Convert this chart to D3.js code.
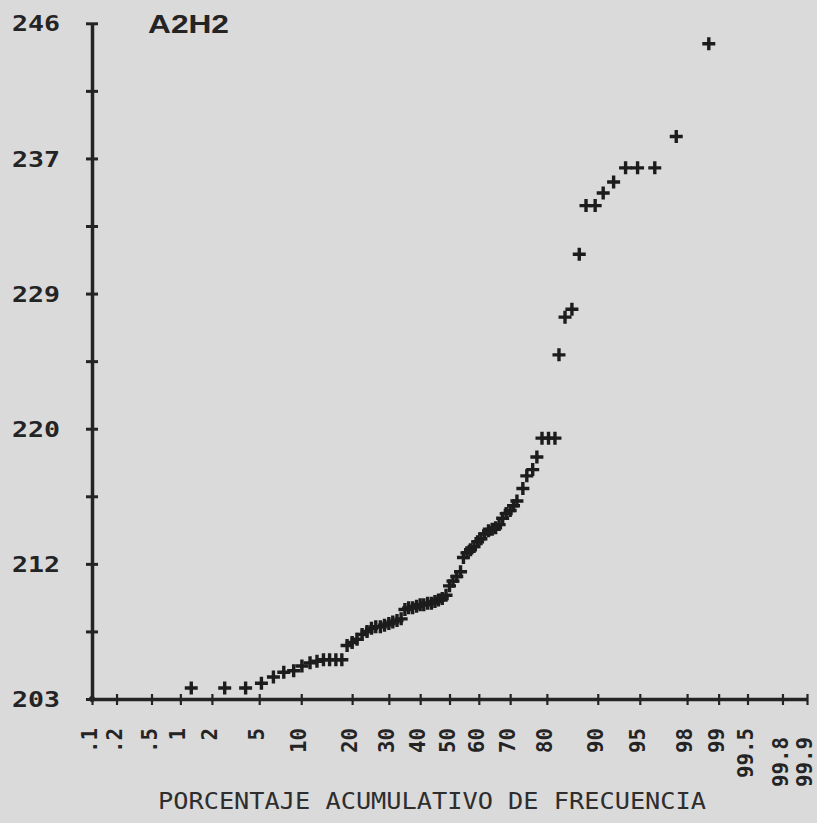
<!DOCTYPE html>
<html>
<head>
<meta charset="utf-8">
<script src="https://cdn.jsdelivr.net/npm/d3@7"></script>
<style>
  html, body { margin: 0; padding: 0; background: #dadada; }
  svg { display: block; }
</style>
</head>
<body>
<svg id="chart" width="817" height="823"></svg>
<script>
// Cumulative frequency (%) of each sorted observation and its value
const percents = [1.28, 2.6, 3.9, 5.2, 6.4, 7.6, 8.9, 10.1, 11.4, 12.6,
  13.8, 15.0, 16.3, 17.6, 18.8, 20.0, 21.2, 22.5, 23.8, 25.0,
  26.2, 27.5, 28.7, 30.0, 31.2, 32.5, 33.8, 35.0, 36.2, 37.5,
  38.8, 40.0, 41.2, 42.5, 43.8, 45.0, 46.2, 47.5, 48.8, 50.0,
  51.2, 52.5, 53.8, 54.8, 56.0, 57.2, 58.4, 59.6, 60.7, 61.9,
  63.2, 64.4, 65.5, 66.6, 67.7, 68.8, 70.0, 71.0, 72.0, 73.7,
  74.8, 76.4, 77.5, 78.8, 80.4, 81.9, 82.8, 84.1, 85.5, 86.9,
  88.1, 89.6, 90.8, 92.2, 93.6, 94.8, 96.2, 97.5, 98.75];
const values = [203.7, 203.7, 203.7, 204.0, 204.4, 204.7, 204.8, 205.1, 205.3, 205.4,
  205.5, 205.5, 205.5, 205.5, 206.4, 206.6, 206.8, 207.1, 207.3, 207.5,
  207.6, 207.6, 207.7, 207.8, 207.9, 208.0, 208.1, 208.7, 208.8, 208.8,
  208.9, 209.0, 209.0, 209.1, 209.1, 209.2, 209.3, 209.4, 209.6, 210.2,
  210.5, 210.8, 211.1, 212.0, 212.3, 212.5, 212.7, 213.0, 213.2, 213.5,
  213.7, 213.8, 213.9, 214.1, 214.5, 214.8, 215.0, 215.3, 215.6, 216.4,
  217.2, 217.6, 218.4, 219.6, 219.6, 219.6, 224.9, 227.3, 227.8, 231.3,
  234.4, 234.4, 235.2, 235.9, 236.8, 236.8, 236.8, 238.8, 244.7];

const xTickValues = [0.1, 0.2, 0.5, 1, 2, 5, 10, 20, 30, 40, 50, 60, 70, 80, 90, 95, 98, 99, 99.5, 99.8, 99.9];
const xTickLabels = [".1", ".2", ".5", "1", "2", "5", "10", "20", "30", "40", "50", "60", "70", "80", "90", "95", "98", "99", "99.5", "99.8", "99.9"];
const yTickValues = [203, 207.3, 211.6, 215.9, 220.2, 224.5, 228.8, 233.1, 237.4, 241.7, 246];
const yTickLabels = ["203", "", "212", "", "220", "", "229", "", "237", "", "246"];

const title = "A2H2";
const xTitle = "PORCENTAJE ACUMULATIVO DE FRECUENCIA";

// Inverse of the standard normal CDF (Acklam's rational approximation)
function probit(p) {
  const a = [-3.969683028665376e+01, 2.209460984245205e+02, -2.759285104469687e+02, 1.383577518672690e+02, -3.066479806614716e+01, 2.506628277459239e+00];
  const b = [-5.447609879822406e+01, 1.615858368580409e+02, -1.556989798598866e+02, 6.680131188771972e+01, -1.328068155288572e+01];
  const c = [-7.784894002430293e-03, -3.223964580411365e-01, -2.400758277161838e+00, -2.549732539343734e+00, 4.374664141464968e+00, 2.938163982698783e+00];
  const d = [7.784695709041462e-03, 3.224671290700398e-01, 2.445134137142996e+00, 3.754408661907416e+00];
  const pl = 0.02425, ph = 1 - pl;
  let q, r;
  if (p < pl) {
    q = Math.sqrt(-2 * Math.log(p));
    return (((((c[0]*q+c[1])*q+c[2])*q+c[3])*q+c[4])*q+c[5]) / ((((d[0]*q+d[1])*q+d[2])*q+d[3])*q+1);
  }
  if (p <= ph) {
    q = p - 0.5; r = q * q;
    return (((((a[0]*r+a[1])*r+a[2])*r+a[3])*r+a[4])*r+a[5])*q / (((((b[0]*r+b[1])*r+b[2])*r+b[3])*r+b[4])*r+1);
  }
  q = Math.sqrt(-2 * Math.log(1 - p));
  return -(((((c[0]*q+c[1])*q+c[2])*q+c[3])*q+c[4])*q+c[5]) / ((((d[0]*q+d[1])*q+d[2])*q+d[3])*q+1);
}

const plotLeft = 92, plotRight = 807, plotTop = 23.3, plotBottom = 699;
const ink = "#242424";

const svg = d3.select("#chart");
svg.append("rect").attr("width", 817).attr("height", 823).attr("fill", "#dadada");

// Normal-probability x scale: linear in z, labelled in percent
const zScale = d3.scaleLinear()
  .domain([probit(0.001), probit(0.999)])
  .range([plotLeft, plotRight]);
const xPos = p => zScale(probit(p / 100));

const y = d3.scaleLinear().domain([203, 246]).range([plotBottom, plotTop]);

// X axis
const xAxis = d3.axisBottom(zScale)
  .tickValues(xTickValues.map(p => probit(p / 100)))
  .tickFormat((d, i) => xTickLabels[i])
  .tickSizeOuter(0);
const gx = svg.append("g").attr("transform", `translate(0,${plotBottom})`).call(xAxis);
gx.select(".domain").attr("stroke", ink).attr("stroke-width", 3.5);
gx.selectAll(".tick line").attr("stroke", ink).attr("stroke-width", 2.2)
  .attr("y1", -5).attr("y2", 6);
gx.selectAll(".tick text")
  .attr("fill", ink)
  .attr("font-family", "'DejaVu Sans Mono', monospace")
  .attr("font-weight", "bold")
  .attr("font-size", 21)
  .attr("text-anchor", "end")
  .attr("transform", "rotate(-90)")
  .attr("y", 0)
  .attr("dy", "0.22em")
  .attr("x", (d, i) => (i >= 19 ? -38 : -29))
  .attr("textLength", (d, i) => xTickLabels[i].length * 12.5)
  .attr("lengthAdjust", "spacingAndGlyphs");

// Y axis
const yAxis = d3.axisLeft(y)
  .tickValues(yTickValues)
  .tickFormat((d, i) => yTickLabels[i])
  .tickSizeOuter(0);
const gy = svg.append("g").attr("transform", `translate(${plotLeft},0)`).call(yAxis);
gy.select(".domain").attr("stroke", ink).attr("stroke-width", 3.5);
gy.selectAll(".tick line").attr("stroke", ink).attr("stroke-width", 3)
  .attr("x1", -6).attr("x2", 6);
gy.selectAll(".tick text")
  .attr("fill", ink)
  .attr("font-family", "'DejaVu Sans Mono', monospace")
  .attr("font-weight", "bold")
  .attr("font-size", 21)
  .attr("x", -32)
  .attr("dy", "0.36em")
  .attr("textLength", (d, i) => yTickLabels[i] ? 48 : null)
  .attr("lengthAdjust", "spacingAndGlyphs");

// Origin dot
svg.append("circle").attr("cx", plotLeft).attr("cy", plotBottom).attr("r", 3).attr("fill", ink);

// Data markers
const data = percents.map((p, i) => ({ p, v: values[i] }));
svg.append("g").selectAll("path")
  .data(data)
  .join("path")
  .attr("transform", d => `translate(${xPos(d.p)},${y(d.v)})`)
  .attr("d", "M-6.5,0H6.5M0,-6.5V6.5")
  .attr("stroke", "#1c1c1c")
  .attr("stroke-width", 3.4)
  .attr("fill", "none");

// Title
svg.append("text")
  .attr("x", 148).attr("y", 33)
  .attr("font-family", "'Liberation Sans', Arial, sans-serif")
  .attr("font-weight", "bold")
  .attr("font-size", 25)
  .attr("fill", ink)
  .attr("textLength", 81)
  .attr("lengthAdjust", "spacingAndGlyphs")
  .text(title);

// X axis title
svg.append("text")
  .attr("x", 158).attr("y", 809)
  .attr("font-family", "'DejaVu Sans Mono', monospace")
  .attr("font-size", 23)
  .attr("fill", "#2e2e2e")
  .attr("textLength", 548)
  .attr("lengthAdjust", "spacingAndGlyphs")
  .text(xTitle);
</script>
</body>
</html>
